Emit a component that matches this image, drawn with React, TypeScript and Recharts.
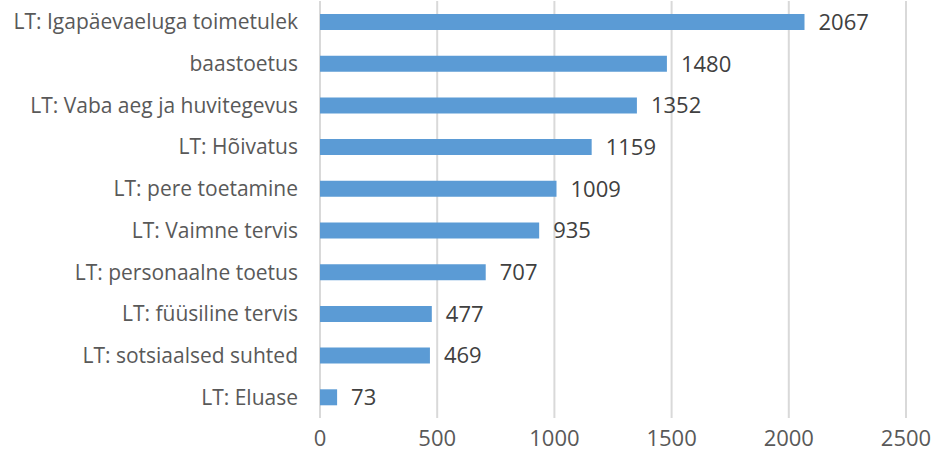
import React from 'react';
import { BarChart, Bar, XAxis, YAxis, CartesianGrid, LabelList } from 'recharts';

const categories = [
  'LT: Igapäevaeluga toimetulek',
  'baastoetus',
  'LT: Vaba aeg ja huvitegevus',
  'LT: Hõivatus',
  'LT: pere toetamine',
  'LT: Vaimne tervis',
  'LT: personaalne toetus',
  'LT: füüsiline tervis',
  'LT: sotsiaalsed suhted',
  'LT: Eluase',
];
const values = [2067, 1480, 1352, 1159, 1009, 935, 707, 477, 469, 73];
const xTicks = [0, 500, 1000, 1500, 2000, 2500];

const data = categories.map((name, i) => ({ name, value: values[i] }));

const FONT = '"Open Sans", "Liberation Sans", sans-serif';

const App = () => {
  return (
    <div style={{ position: 'absolute', left: 0, top: 0, width: 932, height: 459, background: '#fff' }}>
      <BarChart
        width={932}
        height={459}
        data={data}
        layout="vertical"
        margin={{ top: 1, right: 26, bottom: 0, left: 0 }}
        barSize={16}
      >
        <CartesianGrid horizontal={false} stroke="#d9d9d9" strokeWidth={2} />
        <XAxis
          type="number"
          domain={[0, 2500]}
          ticks={xTicks}
          axisLine={false}
          tickLine={false}
          tickSize={0}
          tickMargin={12}
          height={41}
          tick={{ fill: '#595959', fontSize: 22, fontFamily: FONT }}
        />
        <YAxis
          type="category"
          dataKey="name"
          width={320}
          axisLine={false}
          tickLine={false}
          tickSize={0}
          tickMargin={22}
          interval={0}
          tick={{ fill: '#595959', fontSize: 21, fontFamily: FONT }}
        />
        <Bar dataKey="value" fill="#5b9bd5" isAnimationActive={false}>
          <LabelList
            dataKey="value"
            position="right"
            offset={14}
            style={{ fill: '#404040', fontSize: 22, fontFamily: FONT }}
          />
        </Bar>
      </BarChart>
    </div>
  );
};

export default App;
